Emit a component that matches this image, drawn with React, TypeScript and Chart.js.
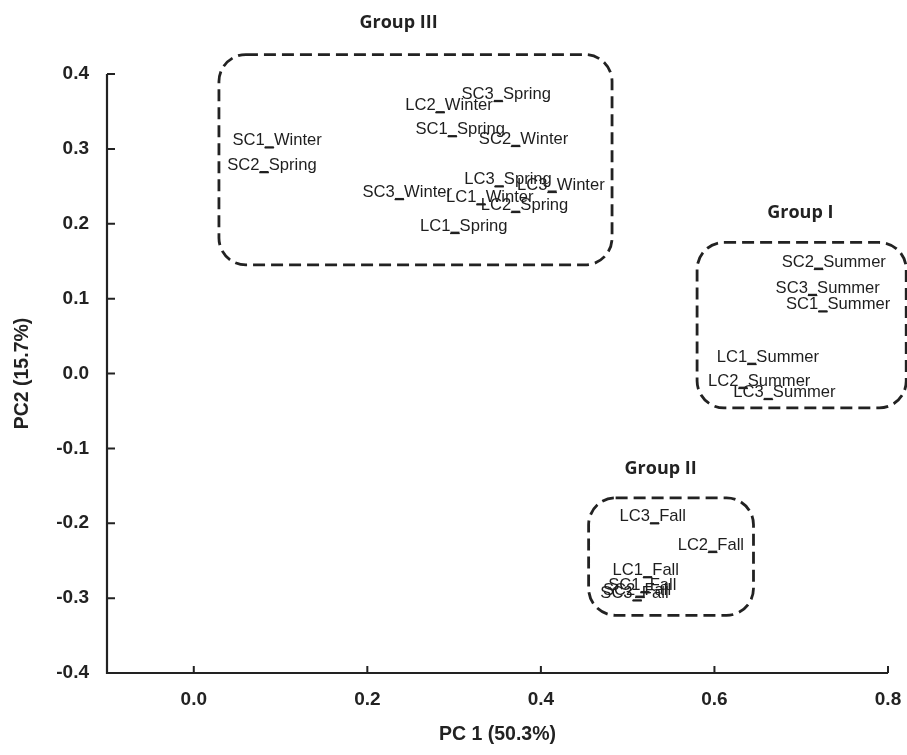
import React, { useEffect, useRef } from "react";
import { Chart, registerables } from "chart.js";

Chart.register(...registerables);

// ---- data ----
const sampleLabels = [
  "SC3_Spring", "LC2_Winter", "SC1_Spring", "SC2_Winter", "SC1_Winter", "SC2_Spring",
  "LC3_Spring", "LC3_Winter", "SC3_Winter", "LC1_Winter", "LC2_Spring", "LC1_Spring",
  "SC2_Summer", "SC3_Summer", "SC1_Summer", "LC1_Summer", "LC2_Summer", "LC3_Summer",
  "LC3_Fall", "LC2_Fall", "LC1_Fall", "SC1_Fall", "SC2_Fall", "SC3_Fall",
];
const pc1Scores = [
  0.351, 0.284, 0.298, 0.371, 0.087, 0.081,
  0.352, 0.413, 0.237, 0.331, 0.371, 0.301,
  0.720, 0.713, 0.725, 0.643, 0.633, 0.662,
  0.531, 0.598, 0.523, 0.520, 0.514, 0.511,
];
const pc2Scores = [
  0.364, 0.349, 0.317, 0.304, 0.302, 0.269,
  0.250, 0.243, 0.233, 0.226, 0.216, 0.188,
  0.140, 0.105, 0.083, 0.013, -0.019, -0.034,
  -0.200, -0.238, -0.272, -0.292, -0.298, -0.303,
];

const xTickValues = [0.0, 0.2, 0.4, 0.6, 0.8];
const xTickLabels = ["0.0", "0.2", "0.4", "0.6", "0.8"];
const yTickValues = [0.4, 0.3, 0.2, 0.1, 0.0, -0.1, -0.2, -0.3, -0.4];
const yTickLabels = ["0.4", "0.3", "0.2", "0.1", "0.0", "-0.1", "-0.2", "-0.3", "-0.4"];

const groupNames = ["Group III", "Group I", "Group II"];
const groupLabelX = [0.236, 0.699, 0.538];
const groupLabelY = [0.468, 0.215, -0.127];
const groupBoxX1 = [0.029, 0.580, 0.455];
const groupBoxX2 = [0.482, 0.821, 0.645];
const groupBoxY1 = [0.426, 0.175, -0.166];
const groupBoxY2 = [0.145, -0.046, -0.323];

const xTitle = "PC 1 (50.3%)";
const yTitle = "PC2 (15.7%)";

const INK = "#222222";

const pcaPlugin = {
  id: "pcaDecor",
  beforeDatasetsDraw(chart: any) {
    const { ctx, scales } = chart;
    const xs = scales.x;
    const ys = scales.y;
    ctx.save();
    // dashed group boxes
    ctx.strokeStyle = INK;
    ctx.lineWidth = 2.8;
    ctx.setLineDash([12, 6]);
    for (let i = 0; i < groupNames.length; i++) {
      const x1 = xs.getPixelForValue(groupBoxX1[i]);
      const x2 = xs.getPixelForValue(groupBoxX2[i]);
      const y1 = ys.getPixelForValue(groupBoxY1[i]);
      const y2 = ys.getPixelForValue(groupBoxY2[i]);
      ctx.beginPath();
      (ctx as any).roundRect(x1, y1, x2 - x1, y2 - y1, 27);
      ctx.stroke();
    }
    ctx.setLineDash([]);
    // group names
    ctx.fillStyle = INK;
    ctx.font = "bold 18px 'Open Sans', 'Liberation Sans', sans-serif";
    ctx.textAlign = "center";
    ctx.textBaseline = "middle";
    for (let i = 0; i < groupNames.length; i++) {
      ctx.fillText(groupNames[i], xs.getPixelForValue(groupLabelX[i]), ys.getPixelForValue(groupLabelY[i]));
    }
    ctx.restore();
  },
  afterDraw(chart: any) {
    const { ctx, scales, chartArea } = chart;
    const xs = scales.x;
    const ys = scales.y;
    ctx.save();
    // axes
    ctx.strokeStyle = INK;
    ctx.lineWidth = 2.2;
    ctx.beginPath();
    ctx.moveTo(chartArea.left, chartArea.top);
    ctx.lineTo(chartArea.left, chartArea.bottom);
    ctx.lineTo(chartArea.right, chartArea.bottom);
    ctx.stroke();
    // inward ticks
    ctx.lineWidth = 2;
    ctx.beginPath();
    for (const v of xTickValues) {
      const px = xs.getPixelForValue(v);
      ctx.moveTo(px, chartArea.bottom);
      ctx.lineTo(px, chartArea.bottom - 7);
    }
    for (const v of yTickValues) {
      const py = ys.getPixelForValue(v);
      ctx.moveTo(chartArea.left, py);
      ctx.lineTo(chartArea.left + 8, py);
    }
    ctx.stroke();
    // tick labels
    ctx.fillStyle = INK;
    ctx.font = "bold 19px 'Liberation Sans', Arial, sans-serif";
    ctx.textAlign = "center";
    ctx.textBaseline = "middle";
    xTickValues.forEach((v, i) => {
      ctx.fillText(xTickLabels[i], xs.getPixelForValue(v), chartArea.bottom + 27);
    });
    ctx.textAlign = "right";
    yTickValues.forEach((v, i) => {
      ctx.fillText(yTickLabels[i], chartArea.left - 18, ys.getPixelForValue(v));
    });
    // axis titles
    ctx.textAlign = "center";
    ctx.font = "bold 19.5px 'Liberation Sans', Arial, sans-serif";
    ctx.fillText(xTitle, (chartArea.left + chartArea.right) / 2, chartArea.bottom + 62);
    ctx.save();
    ctx.translate(chartArea.left - 84, (chartArea.top + chartArea.bottom) / 2);
    ctx.rotate(-Math.PI / 2);
    ctx.fillText(yTitle, 0, 0);
    ctx.restore();
    // point labels: underscore sits on the point marker
    ctx.font = "16.6px 'Liberation Sans', Arial, sans-serif";
    ctx.textAlign = "left";
    ctx.textBaseline = "alphabetic";
    ctx.fillStyle = "#1e1e1e";
    const uw = ctx.measureText("_").width;
    sampleLabels.forEach((lab, i) => {
      const px = xs.getPixelForValue(pc1Scores[i]);
      const py = ys.getPixelForValue(pc2Scores[i]);
      const prefix = lab.split("_")[0];
      const pw = ctx.measureText(prefix).width;
      ctx.fillText(lab, px - pw - uw / 2, py - 2);
    });
    ctx.restore();
  },
};

export default function App() {
  const canvasRef = useRef<HTMLCanvasElement | null>(null);

  useEffect(() => {
    if (!canvasRef.current) return;
    const points = pc1Scores.map((x, i) => ({ x, y: pc2Scores[i] }));
    const chart = new Chart(canvasRef.current, {
      type: "scatter",
      data: {
        datasets: [
          {
            label: "Samples",
            data: points,
            pointStyle: "line",
            pointRadius: 4.5,
            pointHoverRadius: 4.5,
            pointBorderWidth: 2.2,
            borderColor: INK,
            backgroundColor: INK,
          },
        ],
      },
      options: {
        responsive: false,
        animation: false,
        devicePixelRatio: 1,
        layout: { padding: { left: 107, top: 74, right: 19, bottom: 82 } },
        plugins: {
          legend: { display: false },
          tooltip: { enabled: false },
        },
        scales: {
          x: { type: "linear", min: -0.1, max: 0.8, display: false },
          y: { type: "linear", min: -0.4, max: 0.4, display: false },
        },
      },
      plugins: [pcaPlugin],
    });
    return () => chart.destroy();
  }, []);

  return (
    <div style={{ position: "fixed", left: 0, top: 0, width: 907, height: 755, background: "#ffffff" }}>
      <canvas ref={canvasRef} width={907} height={755} style={{ display: "block", width: 907, height: 755 }} />
    </div>
  );
}
